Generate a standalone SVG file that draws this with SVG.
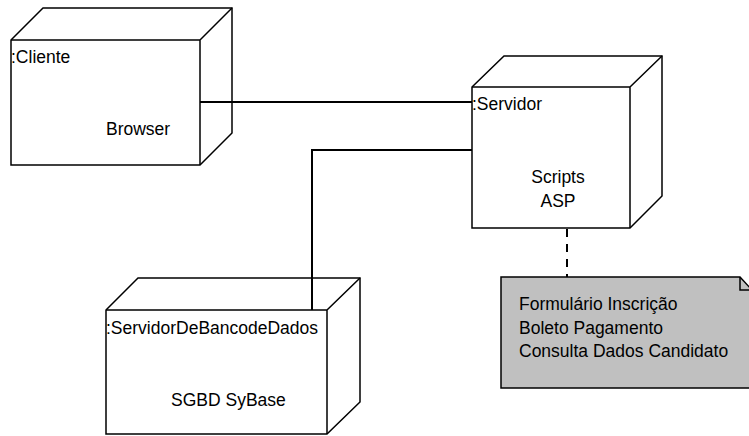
<svg xmlns="http://www.w3.org/2000/svg" width="749" height="436" viewBox="0 0 749 436">
<style>
.box{fill:#fff;stroke:#000;stroke-width:1.5;stroke-linejoin:miter}
.side{fill:none;stroke:#000;stroke-width:1.5}
.conn{fill:none;stroke:#000;stroke-width:2}
.dash{fill:none;stroke:#000;stroke-width:2;stroke-dasharray:8 7}
.note{fill:#c0c0c0;stroke:#000;stroke-width:1.5}
text{font-family:"Liberation Sans",Arial,sans-serif;font-size:17.5px;fill:#000}
</style>
<rect width="749" height="436" fill="#fff"/>
<g id="cliente">
<path class="box" d="M11 40 L43 8 H232 V133 L200 165 H11 Z"/>
<path class="side" d="M11 40 H200 V165 M200 40 L232 8"/>
<text x="11" y="63">:Cliente</text>
<text x="106" y="135">Browser</text>
</g>
<g id="servidor">
<path class="box" d="M472 87 L504 56 H662 V196 L630 228 H472 Z"/>
<path class="side" d="M472 87 H630 V228 M630 87 L662 56"/>
<text x="472" y="110">:Servidor</text>
<text x="558" y="183" text-anchor="middle">Scripts</text>
<text x="558" y="207" text-anchor="middle">ASP</text>
</g>
<g id="bancodados">
<path class="box" d="M106 310 L138 278 H360 V402 L327 434 H106 Z"/>
<path class="side" d="M106 310 H327 V434 M327 310 L360 278"/>
<text x="106" y="334">:ServidorDeBancodeDados</text>
<text x="171" y="406">SGBD SyBase</text>
</g>
<g id="nota">
<path class="note" d="M501 277 H740 L752 290 V388 H501 Z"/>
<path class="side" d="M740 277 V290 H752"/>
<text x="519" y="310">Formulário Inscrição</text>
<text x="519" y="334">Boleto Pagamento</text>
<text x="519" y="357">Consulta Dados Candidato</text>
</g>
<g id="connectors">
<path class="conn" d="M200 102 H472"/>
<path class="conn" d="M312 310 V150 H472"/>
<path class="dash" d="M567 229 V277"/>
</g>
</svg>
